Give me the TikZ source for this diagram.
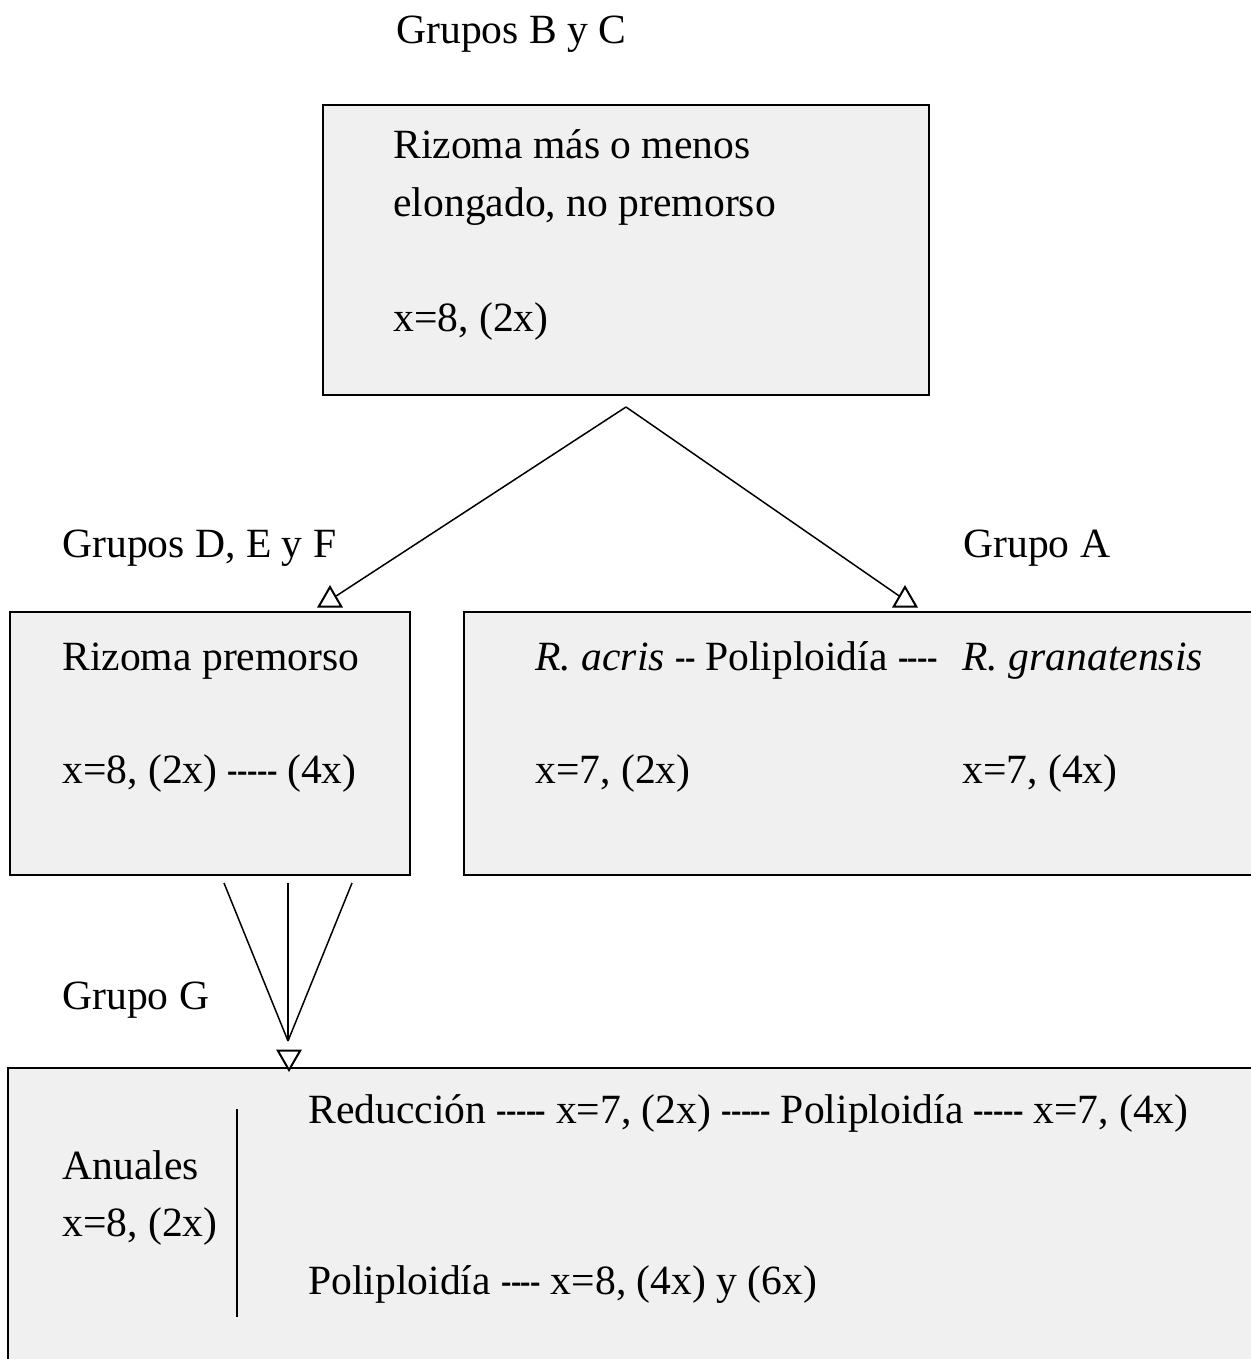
\documentclass[tikz,border=0pt]{standalone}
\usepackage{fontspec}
\usepackage{graphicx}
\setmainfont{Liberation Serif}
\usetikzlibrary{shapes.geometric}
\newcommand\hy{\scalebox{0.75}[1]{-}\kern-0.3pt}
\begin{document}
\begin{tikzpicture}[x=0.5pt,y=-0.5pt,
  box/.style={draw, line width=0.9pt, fill=black!6, inner sep=0pt, rectangle},
  lbl/.style={anchor=base west, inner sep=0pt, font=\fontsize{20.8pt}{25pt}\selectfont},
  tri/.style={draw, fill=white, line width=1pt, regular polygon, regular polygon sides=3, inner sep=0pt, minimum size=13pt},
  conn/.style={line width=0.75pt}]
\useasboundingbox (0,0) rectangle (1251,1359);
% boxes
\node[box, minimum width=303pt, minimum height=145pt] (top) at (626,250) {};
\node[box, minimum width=200pt, minimum height=131.5pt] (midl) at (210,743.5) {};
\node[box, minimum width=399pt, minimum height=131.5pt] (midr) at (863,743.5) {};
\node[box, minimum width=627pt, minimum height=151pt] (bot) at (635,1219) {};
\coordinate (vt) at (237,1109);
\coordinate (vb) at (237,1317);
\draw[line width=0.8pt] (vt) -- (vb);
% labels
\node[lbl] (tBC) at (396,44) {Grupos B y C};
\node[lbl] (t1) at (393,158) {Rizoma más o menos};
\node[lbl] (t2) at (393,216) {elongado, no premorso};
\node[lbl] (t3) at (393,331) {x=8, (2x)};
\node[lbl] (tDEF) at (62,557) {Grupos D, E y F};
\node[lbl] (tA) at (963,557) {Grupo A};
\node[lbl] (m1) at (62,670) {Rizoma premorso};
\node[lbl] (m2) at (62,783) {x=8, (2x) \hy\hy\hy\hy\hy{} (4x)};
\node[lbl] (r1) at (535,670) {\textit{R. acris} \hy\hy{} Poliploidía \hy\hy\hy\hy};
\node[lbl] (r2) at (962,670) {\textit{R. granatensis}};
\node[lbl] (r3) at (535,783) {x=7, (2x)};
\node[lbl] (r4) at (962,783) {x=7, (4x)};
\node[lbl] (tG) at (62,1009) {Grupo G};
\node[lbl] (b1) at (62,1179) {Anuales};
\node[lbl] (b2) at (62,1236) {x=8, (2x)};
\node[lbl] (b3) at (308,1123) {Reducción \hy\hy\hy\hy\hy{} x=7, (2x) \hy\hy\hy\hy\hy{} Poliploidía \hy\hy\hy\hy\hy{} x=7, (4x)};
\node[lbl] (b4) at (308,1294) {Poliploidía \hy\hy\hy\hy{} x=8, (4x) y (6x)};
% connectors
\coordinate (apex) at (626,407);
\node[tri] (tl) at (330,600) {};
\node[tri] (tr) at (905,600) {};
\draw[conn] (apex) -- (tl);
\draw[conn] (apex) -- (tr);
\coordinate (s1) at (224,883);
\coordinate (s2) at (288,883);
\coordinate (s3) at (352,883);
\coordinate (conv) at (288,1041);
\draw[conn] (s1) -- (conv);
\draw[conn] (s2) -- (conv);
\draw[conn] (s3) -- (conv);
\node[tri, rotate=180] (tg) at (289,1057) {};
\end{tikzpicture}
\end{document}
